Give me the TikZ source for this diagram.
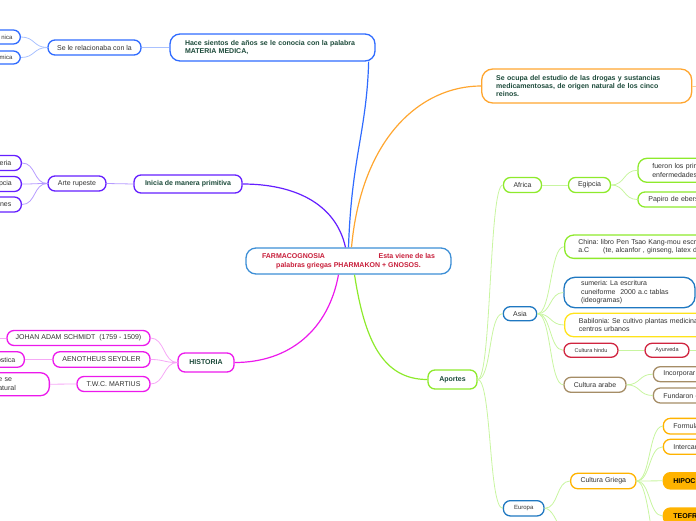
\documentclass[tikz,border=0pt]{standalone}
\usepackage{fontspec}
\setmainfont{Liberation Sans}
\frenchspacing
\usetikzlibrary{positioning, calc}

\definecolor{cBlue}{HTML}{2F6BFF}
\definecolor{cBlueL}{HTML}{A9C1FF}
\definecolor{cPurple}{HTML}{651FFF}
\definecolor{cPurpleL}{HTML}{B79CFF}
\definecolor{cMag}{HTML}{EC19EC}
\definecolor{cMagL}{HTML}{F6A8F6}
\definecolor{cOrange}{HTML}{FFA630}
\definecolor{cOrangeL}{HTML}{FFD08F}
\definecolor{cGreen}{HTML}{8EEA2C}
\definecolor{cGreenL}{HTML}{C8F5A0}
\definecolor{cCenter}{HTML}{3D8FD6}
\definecolor{cSea}{HTML}{1F78C1}
\definecolor{cYellow}{HTML}{FFE31A}
\definecolor{cRed}{HTML}{D0243F}
\definecolor{cBrown}{HTML}{A58D66}
\definecolor{cGold}{HTML}{FFB300}
\definecolor{txtgreen}{HTML}{1C4A3A}
\definecolor{txtgray}{HTML}{333333}
\definecolor{txtred}{HTML}{C81E3A}

\tikzset{
  topic/.style={draw, rounded corners=7pt, line width=1.3pt, fill=white, text=txtgray,
    font=\fontsize{7}{8.4}\selectfont, inner ysep=1pt, inner xsep=4pt, minimum height=15pt},
  main/.style={topic, text=txtgreen, font=\fontsize{7}{8.4}\selectfont\bfseries},
  small/.style={font=\fontsize{5.5}{6.6}\selectfont},
  link/.style={line width=0.8pt},
  trunk/.style={line width=1.2pt},
  rbranch/.style={out=0, in=180, distance=14pt},
  lbranch/.style={out=180, in=0, distance=14pt},
}

\begin{document}
\begin{tikzpicture}[x=1pt, y=-1pt]
\useasboundingbox (0,0) rectangle (696,520);
\clip (0,0) rectangle (696,520);

% centre
\node[topic, draw=cCenter, rounded corners=10pt, minimum width=205pt, minimum height=26pt,
  text=txtred, font=\fontsize{7}{8.4}\selectfont\bfseries, align=center] (farma) at (348.5,261)
  {\makebox[173pt]{FARMACOGNOSIA\hfill Esta viene de las}\\palabras griegas PHARMAKON + GNOSOS.};

% blue branch
\node[main, draw=cBlue, rounded corners=10pt, text width=175pt, align=left, inner xsep=15pt,
  minimum height=27pt] (hace) at (272.5,47.5)
  {Hace sientos de años se le conocia con la palabra\\MATERIA MEDICA,};
\node[topic, draw=cBlue, minimum width=93pt] (relac) at (94.5,47.5) {Se le relacionaba con la};
\node[topic, draw=cBlue, anchor=east, text width=40pt, align=right, inner xsep=8pt,
  minimum height=14pt, font=\fontsize{6}{7}\selectfont] (nica) at (21,37) {nica};
\node[topic, draw=cBlue, anchor=east, text width=40pt, align=right, inner xsep=8pt,
  minimum height=13pt, font=\fontsize{6}{7}\selectfont] (rmica) at (21,57.5) {rmica};

\draw[cBlue, trunk] (farma.north) .. controls +(3,-90) and +(-2,70) .. ([xshift=-7pt]hace.south east);
\draw[cBlueL, link] (hace.west) -- (relac.east);
\draw[cBlueL, link] (relac.west) to[lbranch] (nica.east);
\draw[cBlueL, link] (relac.west) to[lbranch] (rmica.east);

% purple branch
\node[main, draw=cPurple, minimum width=108pt, minimum height=18pt] (inicia) at (188,184) {Inicia de manera primitiva};
\node[topic, draw=cPurple, minimum width=58pt] (arte) at (77,183.5) {Arte rupeste};
\node[topic, draw=cPurple, anchor=east, text width=40pt, align=right, inner xsep=10pt] (eria) at (22,163) {eria};
\node[topic, draw=cPurple, anchor=east, text width=40pt, align=right, inner xsep=9.5pt] (pcia) at (22,184) {pcia};
\node[topic, draw=cPurple, anchor=east, text width=40pt, align=right, inner xsep=10pt] (nes) at (22,204.5) {nes};

\draw[cPurple, trunk] ([xshift=-3pt]farma.north) .. controls +(-10,-45) and +(50,0) .. (inicia.east);
\draw[cPurpleL, link] (inicia.west) -- (arte.east);
\foreach \leaf in {eria, pcia, nes}
  \draw[cPurpleL, link] (arte.west) to[lbranch] (\leaf.east);

% magenta branch
\node[main, draw=cMag, minimum width=56pt, minimum height=19pt] (historia) at (206,362.5) {HISTORIA};
\node[topic, draw=cMag, minimum width=143pt] (schmidt) at (78.5,338) {JOHAN ADAM SCHMIDT\ \ (1759 - 1509)};
\node[topic, draw=cMag, minimum width=97pt, minimum height=15.5pt] (seydler) at (101.5,359.5) {AENOTHEUS SEYDLER};
\node[topic, draw=cMag, minimum width=73pt] (martius) at (113.5,384) {T.W.C. MARTIUS};
\node[topic, draw=cMag, anchor=east, text width=40pt, align=right, inner xsep=9pt,
  minimum height=15.5pt] (ostica) at (25,359.5) {ostica};
\node[topic, draw=cMag, rounded corners=9pt, anchor=east, text width=41pt, align=left, inner xsep=10pt,
  minimum height=23pt] (sese) at (50,384.2) {e se\\atural};
\coordinate (schmidtout) at (-12,338);

\draw[cMag, trunk] ([xshift=-10pt]farma.south) .. controls +(-10,55) and +(55,0) .. (historia.east);
\foreach \leaf in {schmidt, seydler, martius}
  \draw[cMagL, link] (historia.west) to[lbranch] (\leaf.east);
\draw[cMagL, link] (schmidt.west) -- (schmidtout);
\draw[cMagL, link] (seydler.west) -- (ostica.east);
\draw[cMagL, link] (martius.west) -- (sese.east);

% orange branch
\node[main, draw=cOrange, rounded corners=11pt, text width=181pt, align=left, inner xsep=14.5pt,
  minimum height=34pt, font=\fontsize{7}{7.8}\selectfont\bfseries] (ocupa) at (586.7,86)
  {Se ocupa del estudio de las drogas y sustancias\\medicamentosas, de origen natural de los cinco\\reinos.};
\coordinate (ocupaout) at (710,86);

\draw[cOrange, trunk] ([xshift=3pt]farma.north) .. controls +(10,-110) and +(-60,0) .. (ocupa.west);
\draw[cOrangeL, link] (ocupa.east) -- (ocupaout);

% green branch
\node[main, draw=cGreen, minimum width=49pt, minimum height=19pt] (aportes) at (452.5,379.5) {Aportes};
\draw[cGreen, trunk] ([xshift=6pt]farma.south) .. controls +(10,65) and +(-45,0) .. (aportes.west);

\node[topic, draw=cGreen, minimum width=38pt] (africa) at (522.5,185) {Africa};
\node[topic, draw=cGreen, minimum width=42pt] (egipcia) at (589.5,185) {Egipcia};
\node[topic, draw=cGreen, rounded corners=9pt, anchor=west, text width=80pt, align=left, inner xsep=14.4pt,
  minimum height=24pt] (fueron) at (637.3,170.3) {fueron los prim\\enfermedades};
\node[topic, draw=cGreen, anchor=west, text width=80pt, align=left, inner xsep=10.4pt] (papiro) at (637.3,199.5) {Papiro de ebers};

\node[topic, draw=cSea, minimum width=33.5pt, minimum height=14pt] (asia) at (520,313.7) {Asia};
\node[topic, draw=cGreen, rounded corners=9pt, anchor=west, text width=160pt, align=left, inner xsep=13.7pt,
  minimum height=23.3pt] (china) at (564,246.7)
  {China: libro Pen Tsao Kang-mou escri\\a.C\hspace{14pt}(te, alcanfor , ginseng, latex de};
\node[topic, draw=cSea, rounded corners=11pt, text width=97pt, align=left, inner xsep=17pt,
  minimum height=30.4pt] (sumeria) at (629.5,292.5)
  {sumeria: La escritura\\cuneiforme\ \ 2000 a.c tablas\\(ideogramas)};
\node[topic, draw=cYellow, rounded corners=9pt, anchor=west, text width=160pt, align=left, inner xsep=14.3pt,
  minimum height=23.4pt] (babilonia) at (564,325) {Babilonia: Se cultivo plantas medicina\\centros urbanos};
\node[topic, draw=cRed, small, minimum width=54pt, minimum height=14pt] (hindu) at (591,350.3) {Cultura hindu};
\node[topic, draw=cRed, small, minimum width=44pt, minimum height=14pt] (ayurveda) at (667,350.3) {Ayurveda};
\node[topic, draw=cBrown, minimum width=62pt] (arabe) at (595,384.8) {Cultura arabe};
\node[topic, draw=cBrown, anchor=west, text width=80pt, align=left, inner xsep=10pt] (incorp) at (652.7,374.2) {Incorporar};
\node[topic, draw=cBrown, anchor=west, text width=80pt, align=left, inner xsep=10pt] (fundaron) at (652.7,395.5) {Fundaron e};
\coordinate (ayurvedaout) at (710,350.3);

\node[topic, draw=cSea, font=\fontsize{6}{7}\selectfont, minimum width=40.7pt, minimum height=15.3pt] (europa) at (523.7,508.3) {Europa};
\node[topic, draw=cGold, minimum width=65.3pt, minimum height=15.4pt] (griega) at (603.3,481) {Cultura Griega};
\node[topic, draw=cGold, anchor=west, text width=60pt, align=left, inner xsep=10pt, minimum height=15.7pt] (formula) at (662.7,426.2) {Formula};
\node[topic, draw=cGold, anchor=west, text width=60pt, align=left, inner xsep=10pt] (intercam) at (662.7,446.8) {Intercam};
\node[topic, draw=cGold, fill=cGold, text=black, font=\fontsize{7}{8.4}\selectfont\bfseries, anchor=west,
  text width=60pt, align=left, inner xsep=10pt, minimum height=16.3pt] (hipocr) at (662.7,480.8) {HIPOCR};
\node[topic, draw=cGold, fill=cGold, text=black, font=\fontsize{7}{8.4}\selectfont\bfseries, anchor=west,
  text width=60pt, align=left, inner xsep=10pt, minimum height=16pt] (teofr) at (662.7,516) {TEOFR};
\coordinate (europaout) at (580,560);
\coordinate (griegaout) at (665,570);

\foreach \leaf in {africa, asia, europa}
  \draw[cGreenL, link] (aportes.east) to[rbranch] (\leaf.west);
\draw[cGreenL, link] (africa.east) -- (egipcia.west);
\foreach \leaf in {fueron, papiro}
  \draw[cGreenL, link] (egipcia.east) to[rbranch] (\leaf.west);
\foreach \leaf in {china, sumeria, babilonia, hindu, arabe}
  \draw[cGreenL, link] (asia.east) to[rbranch] (\leaf.west);
\draw[cGreenL, link] (hindu.east) -- (ayurveda.west);
\draw[cGreenL, link] (ayurveda.east) -- (ayurvedaout);
\foreach \leaf in {incorp, fundaron}
  \draw[cGreenL, link] (arabe.east) to[rbranch] (\leaf.west);
\draw[cGreenL, link] (europa.east) to[rbranch] (griega.west);
\draw[cGreenL, link] (europa.east) to[rbranch] (europaout);
\foreach \leaf in {formula, intercam, hipocr, teofr}
  \draw[cGreenL, link] (griega.east) to[rbranch] (\leaf.west);
\draw[cGreenL, link] (griega.east) to[rbranch] (griegaout);
\end{tikzpicture}
\end{document}
